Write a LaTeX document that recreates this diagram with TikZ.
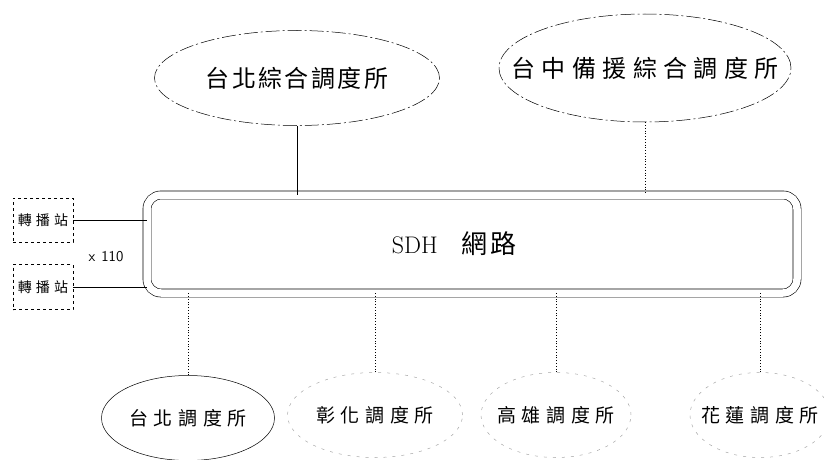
\documentclass[tikz,border=0pt]{standalone}
\usepackage{fontspec}
\newfontfamily\cjk[LetterSpace=10]{Noto Sans CJK TC}
\newfontfamily\cjkwide[LetterSpace=27]{Noto Sans CJK TC}
\newfontfamily\cjkmid[LetterSpace=30]{Noto Sans CJK TC}
\usetikzlibrary{shapes.geometric}
\begin{document}
\begin{tikzpicture}[
		x={(1pt,0pt)},
		y={(0pt,-1pt)},
		center/.style={ellipse,draw,line width=0.5pt,dash pattern=on 14pt off 3pt on 2pt off 3pt,inner sep=0pt},
		station/.style={ellipse,draw,line width=0.5pt,inner sep=0pt,minimum height=85pt},
		faint/.style={draw=black!35,dash pattern=on 3pt off 6pt},
		relay/.style={draw,dashed,line width=0.5pt,inner sep=0pt,minimum width=60pt,minimum height=44pt},
		link/.style={line width=0.6pt},
		tie/.style={line width=0.8pt,dotted},
	]
		\useasboundingbox (0,0) rectangle (824,460);
		
		% dispatch centres at the top
		\node[center,minimum width=285pt,minimum height=95pt] (ctrlA) at (297,78) {\makebox[0pt]{\fontsize{24}{26}\cjk 台北綜合調度所}};
		\node[center,minimum width=292pt,minimum height=108pt] (ctrlB) at (645,68) {\makebox[0pt]{\fontsize{24}{26}\cjkwide 台中備援綜合調度所}};
		
		% network
		\node[draw,double,double distance=7.5pt,line width=0.6pt,rounded corners=14pt,
			minimum width=650pt,minimum height=98pt] (sdh) at (472,244) {\fontsize{24}{26}\selectfont SDH\hspace{24pt}{\fontsize{26}{28}\cjk 網路}\hspace{36pt}\null};
		
		\draw[link] (ctrlA.south) -- (ctrlA.south |- sdh.north);
		\draw[tie] (ctrlB.south) -- (ctrlB.south |- sdh.north);
		
		% relay stations
		\node[relay] (relayA) at (43,220) {\fontsize{14}{15}\cjkmid 轉播站};
		\node[relay,minimum height=45pt] (relayB) at (43,287) {\fontsize{14}{15}\cjkmid 轉播站};
		\draw[link] (relayA.east) -- (relayA.east -| sdh.west);
		\draw[link] (relayB.east) -- (relayB.east -| sdh.west);
		\node (count) at (106,257) {\sffamily\fontsize{15}{16}\selectfont x\hspace{6pt}110};
		
		% regional centres at the bottom
		\node[station,minimum width=173pt] (stA) at (188,418) {\makebox[0pt]{\fontsize{19}{20}\cjkmid 台北調度所}};
		\foreach \name/\x/\w/\txt in {stB/375/175/彰化調度所,stC/556/150/高雄調度所,stD/760/140/花蓮調度所}{
			\node[station,faint,minimum width=\w pt] (\name) at (\x,415) {\makebox[0pt]{\fontsize{19}{20}\cjkmid \txt}};
		}
		\foreach \name in {stA,stB,stC,stD}{
			\draw[tie] (\name.north) -- (\name.north |- sdh.south);
		}
	\end{tikzpicture}
\end{document}
